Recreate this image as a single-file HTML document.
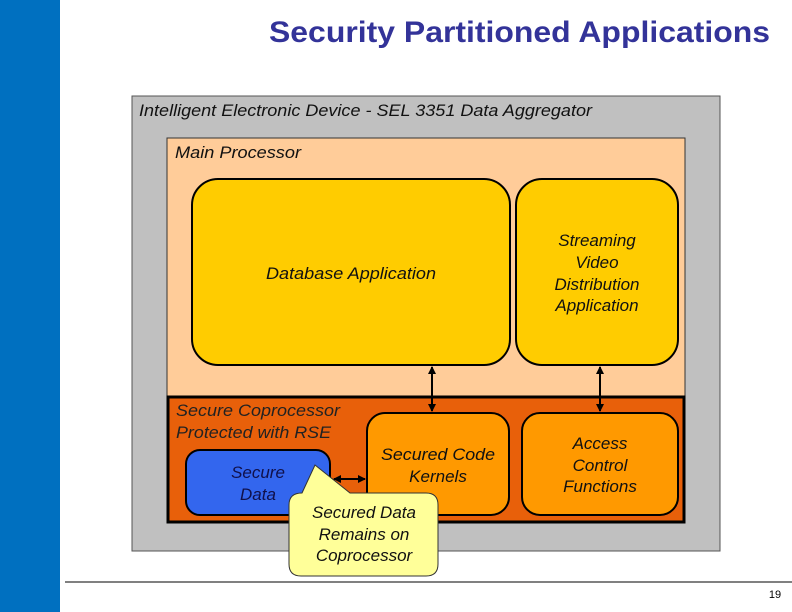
<!DOCTYPE html>
<html><head><style>
html,body{margin:0;padding:0;background:#fff}
svg{display:block}
text{font-family:"Liberation Sans",Arial,sans-serif}
</style></head><body>
<svg width="792" height="612" viewBox="0 0 792 612" xmlns="http://www.w3.org/2000/svg">
<defs>
<marker id="ah" markerWidth="8" markerHeight="8" refX="7" refY="4" orient="auto-start-reverse" markerUnits="userSpaceOnUse">
<path d="M0,0 L8,4 L0,8 z" fill="#000"/></marker>
</defs>
<rect x="0" y="0" width="60" height="612" fill="#0070C0"/>
<text x="269" y="42" font-size="30" font-weight="bold" fill="#333399" textLength="501" lengthAdjust="spacingAndGlyphs">Security Partitioned Applications</text>

<rect x="132" y="96" width="588" height="455" fill="#C0C0C0" stroke="#555" stroke-width="1"/>
<text x="139" y="116" font-size="17" font-style="italic" fill="#111" textLength="453" lengthAdjust="spacingAndGlyphs">Intelligent Electronic Device - SEL 3351 Data Aggregator</text>

<rect x="167" y="138" width="518" height="260" fill="#FFCC99" stroke="#333" stroke-width="1"/>
<text x="175" y="158" font-size="17" font-style="italic" fill="#111" textLength="126" lengthAdjust="spacingAndGlyphs">Main Processor</text>

<rect x="192" y="179" width="318" height="186" rx="26" fill="#FFCC00" stroke="#000" stroke-width="2"/>
<text x="351" y="279" text-anchor="middle" font-size="17" font-style="italic" fill="#111" textLength="170" lengthAdjust="spacingAndGlyphs">Database Application</text>
<rect x="516" y="179" width="162" height="186" rx="26" fill="#FFCC00" stroke="#000" stroke-width="2"/>
<g font-size="17" font-style="italic" fill="#111" text-anchor="middle">
<text x="597" y="246">Streaming</text><text x="597" y="268">Video</text>
<text x="597" y="290">Distribution</text><text x="597" y="311">Application</text>
</g>

<rect x="168" y="397" width="516" height="125" fill="#E8600A" stroke="#000" stroke-width="3"/>
<text x="176" y="416" font-size="17" font-style="italic" fill="#222" textLength="164" lengthAdjust="spacingAndGlyphs">Secure Coprocessor</text>
<text x="176" y="438" font-size="17" font-style="italic" fill="#222" textLength="155" lengthAdjust="spacingAndGlyphs">Protected with RSE</text>

<rect x="367" y="413" width="142" height="102" rx="18" fill="#FF9900" stroke="#000" stroke-width="2"/>
<text x="438" y="460" text-anchor="middle" font-size="17" font-style="italic" fill="#111" textLength="114" lengthAdjust="spacingAndGlyphs">Secured Code</text>
<text x="438" y="482" text-anchor="middle" font-size="17" font-style="italic" fill="#111">Kernels</text>
<rect x="522" y="413" width="156" height="102" rx="18" fill="#FF9900" stroke="#000" stroke-width="2"/>
<g font-size="17" font-style="italic" fill="#111" text-anchor="middle">
<text x="600" y="449">Access</text><text x="600" y="471">Control</text><text x="600" y="492">Functions</text>
</g>

<rect x="186" y="450" width="144" height="65" rx="14" fill="#3366EE" stroke="#000" stroke-width="2"/>
<text x="258" y="478" text-anchor="middle" font-size="17" font-style="italic" fill="#10104a">Secure</text>
<text x="258" y="500" text-anchor="middle" font-size="17" font-style="italic" fill="#10104a">Data</text>

<line x1="432" y1="367" x2="432" y2="411" stroke="#000" stroke-width="2" marker-start="url(#ah)" marker-end="url(#ah)"/>
<line x1="600" y1="367" x2="600" y2="411" stroke="#000" stroke-width="2" marker-start="url(#ah)" marker-end="url(#ah)"/>
<line x1="334" y1="479" x2="365" y2="479" stroke="#000" stroke-width="2" marker-start="url(#ah)" marker-end="url(#ah)"/>

<path d="M302,493 L315,465 L350,493 L426,493 Q438,493 438,505 L438,564 Q438,576 426,576 L301,576 Q289,576 289,564 L289,505 Q289,493 302,493 Z" fill="#FFFF99" stroke="#333" stroke-width="1"/>
<g font-size="17" font-style="italic" fill="#111" text-anchor="middle">
<text x="364" y="518">Secured Data</text><text x="364" y="540">Remains on</text><text x="364" y="561">Coprocessor</text>
</g>

<line x1="65" y1="582" x2="792" y2="582" stroke="#000" stroke-width="1"/>
<text x="775" y="598" text-anchor="middle" font-size="11" fill="#000">19</text>
</svg>
</body></html>
